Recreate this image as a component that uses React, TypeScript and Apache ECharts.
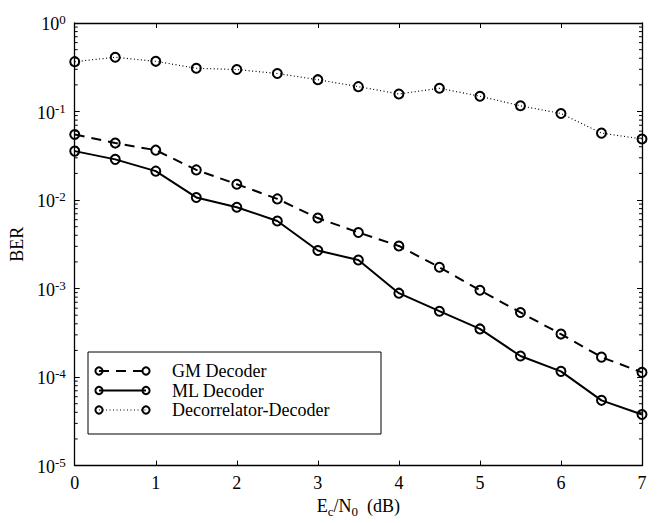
import React, { useEffect, useRef } from "react";
import * as echarts from "echarts";

const snr = [0, 0.5, 1, 1.5, 2, 2.5, 3, 3.5, 4, 4.5, 5, 5.5, 6, 6.5, 7];
const gmDecoder = [0.055, 0.044, 0.0366, 0.0219, 0.0151, 0.0103, 0.00626, 0.0043, 0.00303, 0.00174, 0.000958, 0.000537, 0.000306, 0.000168, 0.000113];
const mlDecoder = [0.0357, 0.0288, 0.0212, 0.0107, 0.0083, 0.0058, 0.00269, 0.0021, 0.000887, 0.000555, 0.00035, 0.000173, 0.000116, 0.0000546, 0.0000378];
const decorrelator = [0.366, 0.41, 0.369, 0.308, 0.298, 0.269, 0.229, 0.191, 0.158, 0.183, 0.149, 0.116, 0.095, 0.057, 0.049];
const xTicks = [0, 1, 2, 3, 4, 5, 6, 7];
const decades = [-5, -4, -3, -2, -1];
const minorMultipliers = [2, 3, 4, 5, 6, 7, 8, 9];
const legendNames = ["GM Decoder", "ML Decoder", "Decorrelator-Decoder"];

const FONT = "'Liberation Serif', 'DejaVu Serif', serif";

export default function App() {
  const ref = useRef<HTMLDivElement>(null);
  useEffect(() => {
    if (!ref.current) return;
    const chart = echarts.init(ref.current, null, { renderer: "svg" });
    const pairs = (ys: number[]) => snr.map((x, i) => [x, ys[i]]);
    const minorVals: number[] = [];
    decades.forEach((d) => minorMultipliers.forEach((m) => minorVals.push(m * Math.pow(10, d))));

    const left = 72, top = 23, right = 642, bottom = 473;
    const lineStyleBase = { color: "#000" };
    const symbolStyle = { color: "none", borderColor: "#000", borderWidth: 2 };

    const lx1 = 99, lx2 = 146, ltx = 172;
    const rows = [371, 390.5, 410];
    const dashes: any[] = [[10, 7], "solid", [1, 2.5]];
    const widths = [2, 2, 1.2];
    const legendChildren: any[] = [
      { type: "rect", shape: { x: 88, y: 352, width: 293, height: 82 }, style: { fill: "#fff", stroke: "#000", lineWidth: 1 } },
    ];
    legendNames.forEach((name, i) => {
      legendChildren.push({ type: "line", shape: { x1: lx1, y1: rows[i], x2: lx2, y2: rows[i] }, style: { stroke: "#000", lineWidth: widths[i], lineDash: dashes[i] } });
      legendChildren.push({ type: "circle", shape: { cx: lx1, cy: rows[i], r: 3.6 }, style: { fill: "none", stroke: "#000", lineWidth: 2 } });
      legendChildren.push({ type: "circle", shape: { cx: lx2, cy: rows[i], r: 3.6 }, style: { fill: "none", stroke: "#000", lineWidth: 2 } });
      legendChildren.push({ type: "text", x: ltx, y: rows[i], style: { text: name, fontFamily: FONT, fontSize: 18, lineHeight: 18, fill: "#000", verticalAlign: "middle", align: "left" } });
    });

    chart.setOption({
      animation: false,
      backgroundColor: "#fff",
      grid: { left, top, right: 660 - right, bottom: 523 - bottom, containLabel: false },
      xAxis: [
        {
          type: "value", min: 0, max: 7, interval: 1, position: "bottom",
          axisLine: { show: true, onZero: false, lineStyle: { color: "#000", width: 1.3 } },
          axisTick: { show: true, inside: true, length: 5, lineStyle: { color: "#000" } },
          splitLine: { show: false },
          axisLabel: { color: "#000", fontFamily: FONT, fontSize: 18, margin: 8 },
          name: "{b|E}{sub|c}{b|/N}{sub|0}{b|  (dB)}",
          nameLocation: "middle",
          nameGap: 24,
          nameTextStyle: {
            color: "#000", fontFamily: FONT, fontSize: 18,
            rich: {
              b: { fontFamily: FONT, fontSize: 18, color: "#000" },
              sub: { fontFamily: FONT, fontSize: 13, color: "#000", verticalAlign: "bottom", padding: [12, 0, 0, 0] },
            },
          },
        },
        {
          type: "value", min: 0, max: 7, interval: 1, position: "top",
          axisLine: { show: true, onZero: false, lineStyle: { color: "#000", width: 1.3 } },
          axisTick: { show: true, inside: true, length: 5, lineStyle: { color: "#000" } },
          splitLine: { show: false },
          axisLabel: { show: false },
        },
      ],
      yAxis: [
        {
          type: "log", min: 1e-5, max: 1, logBase: 10, position: "left",
          axisLine: { show: true, onZero: false, lineStyle: { color: "#000", width: 1.3 } },
          axisTick: { show: true, inside: true, length: 5, lineStyle: { color: "#000" } },
          splitLine: { show: false },
          minorTick: { show: false },
          axisLabel: {
            margin: 9,
            formatter: (v: number) => `{b|10}{s|${Math.round(Math.log10(v))}}`,
            rich: {
              b: { fontFamily: FONT, fontSize: 18, color: "#000", padding: [2, 0, 0, 0] },
              s: { fontFamily: FONT, fontSize: 13, color: "#000", verticalAlign: "top" },
            },
          },
          name: "BER",
          nameLocation: "middle",
          nameRotate: 90,
          nameGap: 38,
          nameTextStyle: { color: "#000", fontFamily: FONT, fontSize: 18 },
        },
        {
          type: "log", min: 1e-5, max: 1, logBase: 10, position: "right",
          axisLine: { show: true, onZero: false, lineStyle: { color: "#000", width: 1.3 } },
          axisTick: { show: true, inside: true, length: 5, lineStyle: { color: "#000" } },
          splitLine: { show: false },
          axisLabel: { show: false },
        },
      ],
      series: [
        {
          type: "custom", name: "minorTicks", xAxisIndex: 0, yAxisIndex: 0, silent: true, clip: false,
          data: minorVals.map((v) => [0, v]),
          renderItem: (params: any, api: any) => {
            const v = api.value(1);
            const pl = api.coord([0, v]);
            const pr = api.coord([7, v]);
            return {
              type: "group",
              children: [
                { type: "line", shape: { x1: pl[0], y1: pl[1], x2: pl[0] + 3, y2: pl[1] }, style: { stroke: "#000", lineWidth: 1 } },
                { type: "line", shape: { x1: pr[0], y1: pr[1], x2: pr[0] - 3, y2: pr[1] }, style: { stroke: "#000", lineWidth: 1 } },
              ],
            };
          },
        },
        {
          type: "line", name: legendNames[2], data: pairs(decorrelator), symbol: "circle", symbolSize: 9,
          itemStyle: symbolStyle, lineStyle: { ...lineStyleBase, width: 1.2, type: [1, 2.5] }, z: 3,
        },
        {
          type: "line", name: legendNames[0], data: pairs(gmDecoder), symbol: "circle", symbolSize: 9,
          itemStyle: symbolStyle, lineStyle: { ...lineStyleBase, width: 2, type: [10, 7] }, z: 3,
        },
        {
          type: "line", name: legendNames[1], data: pairs(mlDecoder), symbol: "circle", symbolSize: 9,
          itemStyle: symbolStyle, lineStyle: { ...lineStyleBase, width: 2, type: "solid" }, z: 3,
        },
      ],
      graphic: [{ type: "group", children: legendChildren, z: 100 }],
    });
    return () => chart.dispose();
  }, []);
  return <div ref={ref} style={{ width: 660, height: 523, position: "absolute", left: 0, top: 0 }} />;
}
